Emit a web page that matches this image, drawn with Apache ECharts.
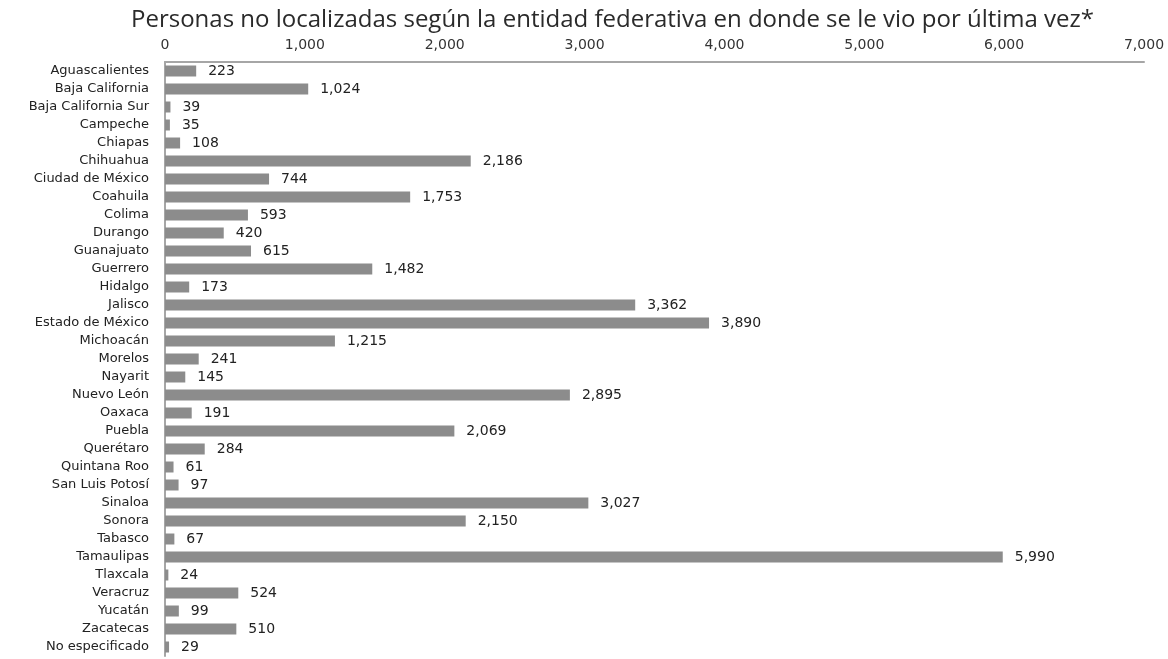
<!DOCTYPE html>
<html>
<head>
<meta charset="utf-8">
<script src="https://cdn.jsdelivr.net/npm/echarts@6/dist/echarts.min.js"></script>
<style>html,body{margin:0;padding:0;background:#fff;}#c{width:1168px;height:659px;}</style>
</head>
<body>
<div id="c"></div>
<script>
const titleText = 'Personas no localizadas según la entidad federativa en donde se le vio por última vez*';
const categories = ['Aguascalientes','Baja California','Baja California Sur','Campeche','Chiapas','Chihuahua','Ciudad de México','Coahuila','Colima','Durango','Guanajuato','Guerrero','Hidalgo','Jalisco','Estado de México','Michoacán','Morelos','Nayarit','Nuevo León','Oaxaca','Puebla','Querétaro','Quintana Roo','San Luis Potosí','Sinaloa','Sonora','Tabasco','Tamaulipas','Tlaxcala','Veracruz','Yucatán','Zacatecas','No especificado'];
const values = [223,1024,39,35,108,2186,744,1753,593,420,615,1482,173,3362,3890,1215,241,145,2895,191,2069,284,61,97,3027,2150,67,5990,24,524,99,510,29];
const axisMin = 0, axisMax = 7000, axisStep = 1000;

const fmt = v => Number(v).toLocaleString('en-US');
const chart = echarts.init(document.getElementById('c'));
chart.setOption({
  backgroundColor: '#ffffff',
  animation: false,
  title: {
    text: titleText, left: 126, top: 3,
    textStyle: { fontFamily: 'Open Sans', fontSize: 24, fontWeight: 'normal', color: '#2a2a2a' }
  },
  grid: { left: 165, right: 24, top: 62, bottom: 3, containLabel: false },
  xAxis: {
    type: 'value', position: 'top', min: axisMin, max: axisMax, interval: axisStep,
    axisLine: { show: true, lineStyle: { color: '#a6a6a6', width: 2 } },
    axisTick: { show: false },
    splitLine: { show: false },
    axisLabel: { formatter: fmt, margin: 10, fontFamily: 'DejaVu Sans', fontSize: 14, color: '#333333' }
  },
  yAxis: {
    type: 'category', data: categories, inverse: true,
    axisLine: { show: true, lineStyle: { color: '#a6a6a6', width: 2 } },
    axisTick: { show: false },
    axisLabel: { margin: 16, fontFamily: 'DejaVu Sans', fontSize: 13, color: '#222222', interval: 0 }
  },
  series: [{
    type: 'bar', data: values, barWidth: 11,
    itemStyle: { color: '#8c8c8c' },
    label: { show: true, position: 'right', distance: 12, formatter: p => fmt(p.value),
      fontFamily: 'DejaVu Sans', fontSize: 14, color: '#222222' }
  }]
});
</script>
</body>
</html>
